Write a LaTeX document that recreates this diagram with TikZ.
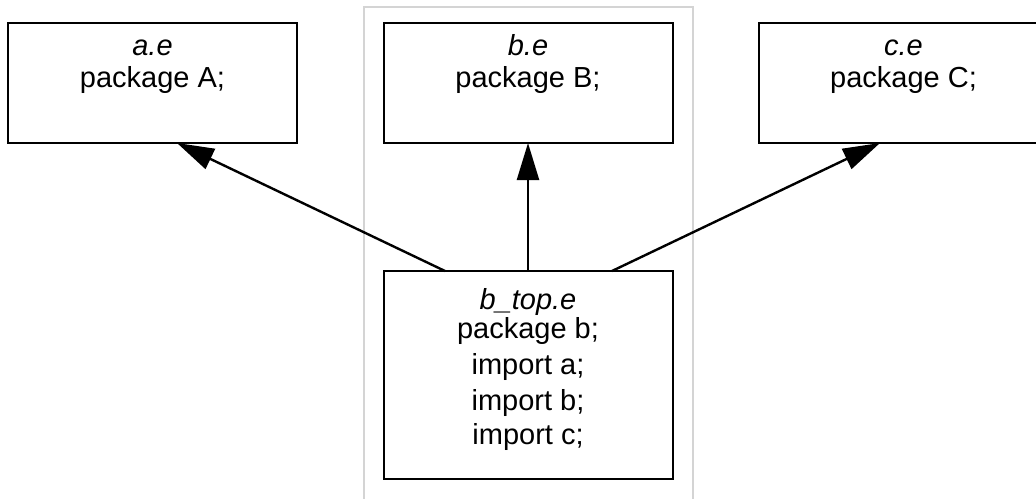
\documentclass[tikz,border=0pt]{standalone}
\usepackage{fontspec}
\setmainfont{Liberation Sans}
\usetikzlibrary{arrows.meta}

\tikzset{
  filebox/.style={draw=black, line width=2pt, fill=white, outer sep=0pt,
                  inner sep=0pt, minimum width=289pt},
  ln/.style={anchor=base, inner sep=0pt, outer sep=0pt,
             font=\fontsize{29pt}{34pt}\selectfont},
  dep/.style={draw=black, line width=2.4pt,
              -{Triangle[length=37pt, width=22pt]}},
  cluster/.style={draw=black!17, line width=2.6pt}
}

\begin{document}
\begin{tikzpicture}[x=1pt, y=-1pt]
  \useasboundingbox (0,0) rectangle (1036,498);
  \fill[white] (0,0) rectangle (1036,498);

  % cluster frame around package b
  \draw[cluster] (364,520) -- (364,7) -- (693,7) -- (693,520);

  % source files
  \node[filebox, minimum height=120pt,
        label={[ln, yshift=-32pt]north:\itshape a.e},
        label={[ln, yshift=-64pt]north:package A;}]
        (a) at (152.5,83) {};
  \node[filebox, minimum height=120pt,
        label={[ln, yshift=-32pt]north:\itshape b.e},
        label={[ln, yshift=-64pt]north:package B;}]
        (b) at (528,83) {};
  \node[filebox, minimum height=120pt,
        label={[ln, yshift=-32pt]north:\itshape c.e},
        label={[ln, yshift=-64pt]north:package C;}]
        (c) at (903.5,83) {};
  \node[filebox, minimum height=208pt,
        label={[ln, yshift=-38.5pt]north:\itshape b\_top.e},
        label={[ln, yshift=-67.5pt]north:package b;},
        label={[ln, yshift=-103.5pt]north:import a;},
        label={[ln, yshift=-139pt]north:import b;},
        label={[ln, yshift=-173.5pt]north:import c;}]
        (bt) at (528,375) {};

  % imports
  \draw[dep] ([xshift=-83pt]bt.north) -- ([xshift=24.5pt]a.south);
  \draw[dep] (bt.north) -- (b.south);
  \draw[dep] ([xshift=84pt]bt.north) -- ([xshift=-23.5pt]c.south);
\end{tikzpicture}
\end{document}
